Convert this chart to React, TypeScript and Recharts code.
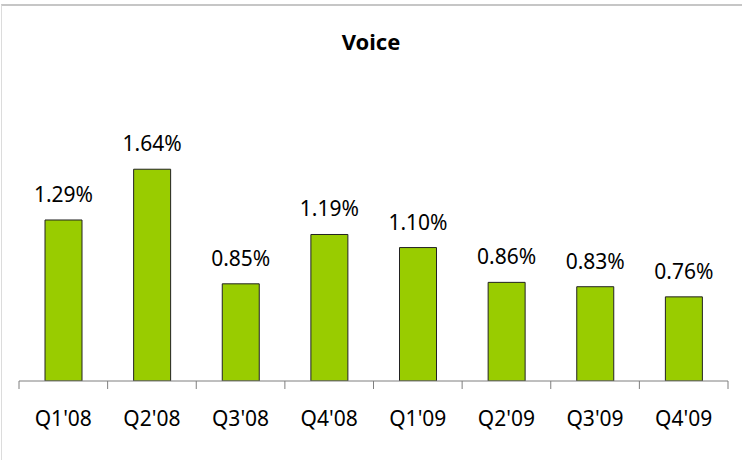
import { Bar, BarChart, LabelList, XAxis, YAxis } from "recharts";

const quarters = ["Q1'08", "Q2'08", "Q3'08", "Q4'08", "Q1'09", "Q2'09", "Q3'09", "Q4'09"];
const voiceShare = [1.29, 1.64, 0.85, 1.19, 1.1, 0.86, 0.83, 0.76];

const data = quarters.map((quarter, i) => ({ quarter, value: voiceShare[i] }));

const FONT = "'Noto Sans', 'Liberation Sans', sans-serif";
const AXIS_GREY = "#7f7f7f";
const TICK_GAP = 30;
const TICK_LEN = 8;

// label at the band centre, tick marks on the band edges (Excel style)
function QuarterTick(props: any) {
  const { x, y, payload, index, visibleTicksCount } = props;
  const half = payload.offset ?? 0;
  const axisY = y - TICK_GAP;
  const isLast = index === visibleTicksCount - 1;
  return (
    <g>
      <line x1={x - half} x2={x - half} y1={axisY} y2={axisY + TICK_LEN} stroke={AXIS_GREY} />
      {isLast && (
        <line x1={x + half} x2={x + half} y1={axisY} y2={axisY + TICK_LEN} stroke={AXIS_GREY} />
      )}
      <text x={x} y={y} dy="0.71em" textAnchor="middle" fill="#000" fontSize={21} fontFamily={FONT}>
        {payload.value}
      </text>
    </g>
  );
}

export default function App() {
  return (
    <div
      style={{
        position: "absolute",
        left: 0,
        top: 0,
        width: 742,
        height: 460,
        background: "#fff",
        fontFamily: FONT,
      }}
    >
      <div
        style={{
          position: "absolute",
          left: 1,
          top: 4,
          width: 741,
          height: 456,
          borderTop: "2px solid #c6c6c6",
          borderLeft: "1px solid #dcdcdc",
          boxSizing: "border-box",
        }}
      />
      <div
        style={{
          position: "absolute",
          left: 0,
          top: 30,
          width: 742,
          textAlign: "center",
          fontWeight: "bold",
          fontSize: 22,
          lineHeight: "22px",
          color: "#000",
        }}
      >
        Voice
      </div>
      <BarChart
        width={742}
        height={460}
        data={data}
        margin={{ top: 117, right: 14, bottom: 0, left: 19 }}
        style={{ position: "absolute", left: 0, top: 0 }}
      >
        <XAxis
          dataKey="quarter"
          interval={0}
          axisLine={{ stroke: AXIS_GREY }}
          tickLine={false}
          tickSize={0}
          tickMargin={TICK_GAP}
          height={79}
          tick={<QuarterTick />}
        />
        <YAxis hide domain={[0.18, 2.0]} allowDataOverflow />
        <Bar
          dataKey="value"
          fill="#99cc00"
          stroke="#222"
          strokeWidth={1}
          barSize={37}
          isAnimationActive={false}
        >
          <LabelList
            dataKey="value"
            position="top"
            offset={18}
            formatter={(v: number) => `${Number(v).toFixed(2)}%`}
            fill="#000"
            fontSize={21}
            fontFamily={FONT}
          />
        </Bar>
      </BarChart>
    </div>
  );
}
